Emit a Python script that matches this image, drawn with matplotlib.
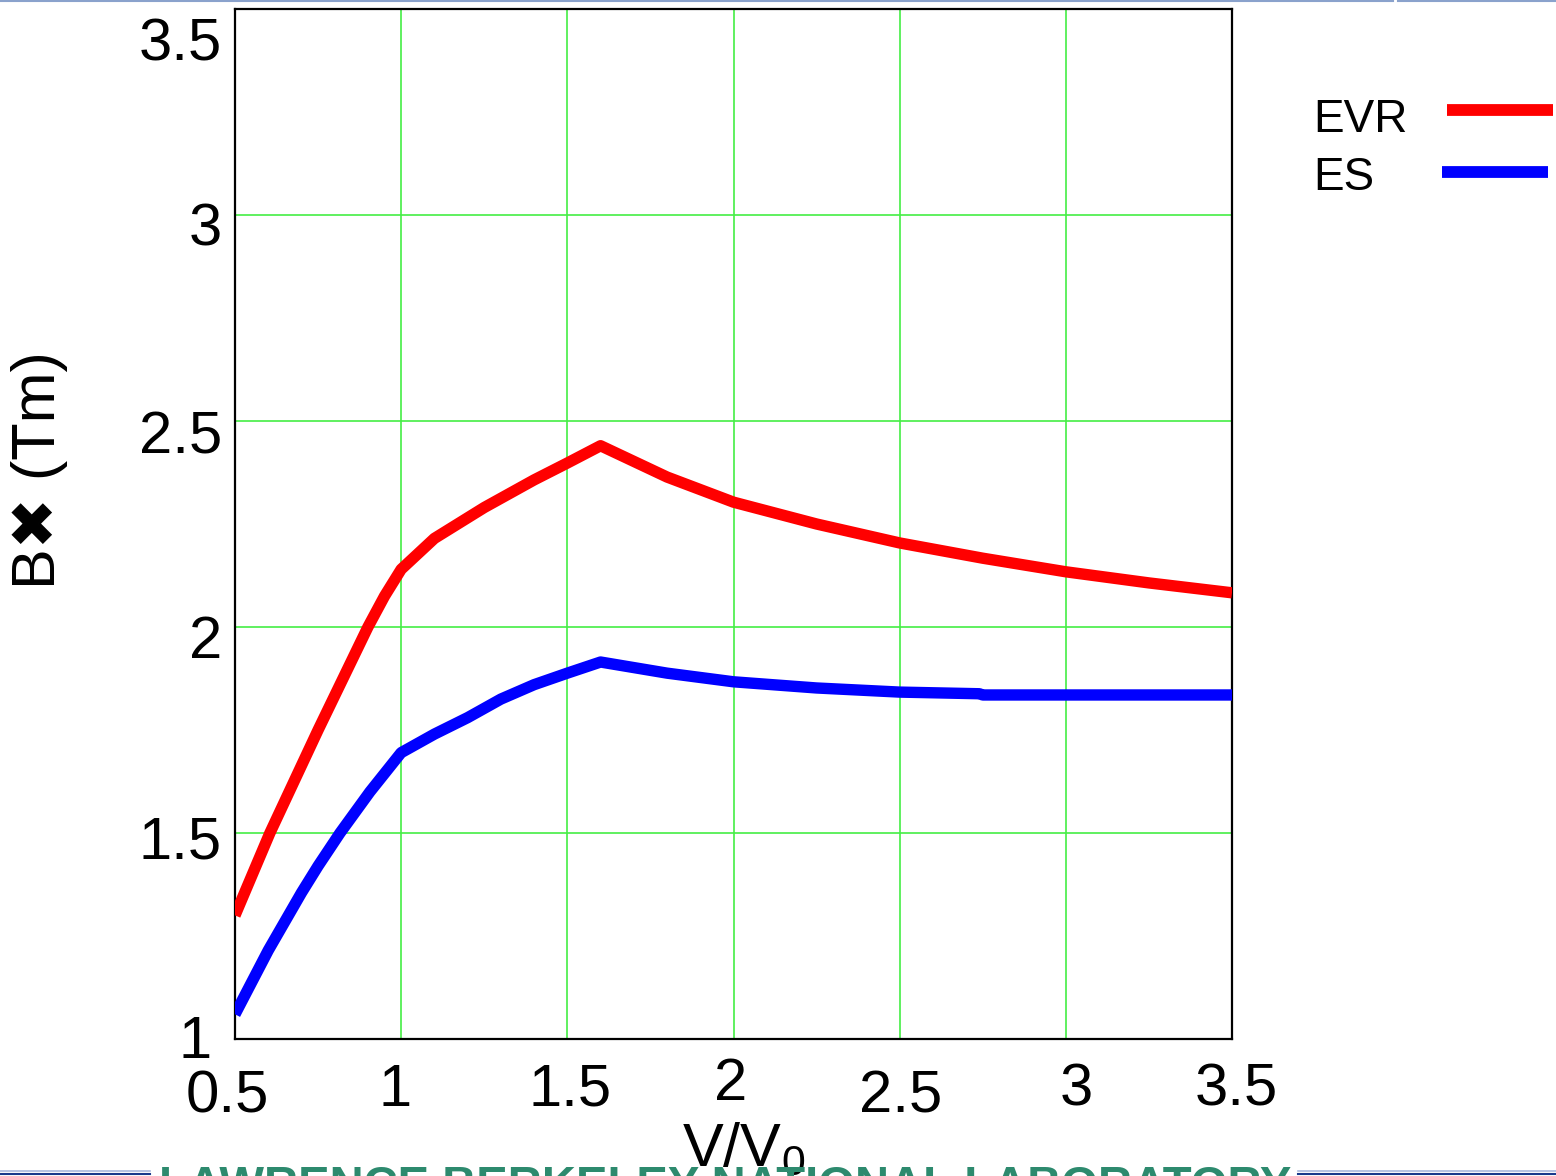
import matplotlib
matplotlib.use('Agg')
import matplotlib.pyplot as plt
from matplotlib.lines import Line2D
from matplotlib import transforms

plt.rcParams['font.family'] = ['Liberation Sans', 'DejaVu Sans']
plt.rcParams['mathtext.fontset'] = 'custom'
plt.rcParams['mathtext.rm'] = 'Liberation Sans'
plt.rcParams['mathtext.default'] = 'regular'

# 読み取った値
v_evr = [0.5, 0.605, 0.75, 0.9, 0.95, 1.0, 1.1, 1.25, 1.4, 1.5, 1.6,
         1.8, 2.0, 2.25, 2.5, 2.75, 3.0, 3.25, 3.5]
b_evr = [1.30, 1.50, 1.75, 2.0, 2.075, 2.14, 2.215, 2.29, 2.357, 2.398, 2.44,
         2.364, 2.303, 2.25, 2.204, 2.167, 2.134, 2.107, 2.083]

v_es = [0.5, 0.6, 0.7, 0.75, 0.816, 0.906, 1.0, 1.1, 1.2, 1.3, 1.4, 1.5, 1.6,
        1.8, 2.0, 2.25, 2.5, 2.74, 2.75, 3.0, 3.5]
b_es = [1.06, 1.215, 1.355, 1.42, 1.5, 1.6, 1.695, 1.74, 1.78, 1.825, 1.86, 1.888, 1.915,
        1.888, 1.867, 1.852, 1.842, 1.838, 1.835, 1.835, 1.835]

series_names = ['EVR', 'ES']
series_colors = ['#ff0000', '#0000ff']

xticks = [0.5, 1, 1.5, 2, 2.5, 3, 3.5]
xtick_labels = ['0.5', '1', '1.5', '2', '2.5', '3', '3.5']
yticks = [1, 1.5, 2, 2.5, 3, 3.5]
ytick_labels = ['1', '1.5', '2', '2.5', '3', '3.5']

# ラベルのずれ（ピクセル）: 元画像のラベル位置がばらばらなので再現する
xlab_dx = [-8, -6, 3, -3, 1, 10, 4]
xlab_dy = [58, 51, 51, 46, 58, 51, 51]
ylab_dx = [-23, -13, -13, -13, -13, -13]
ylab_dy = [4, 10, 16, 17, 15, 36]

W, H = 1556, 1176
fig = plt.figure(figsize=(W / 100, H / 100), dpi=100)
ax = fig.add_axes([235 / W, 1 - 1039 / H, (1232 - 235) / W, (1039 - 9) / H])

for xs, ys, c in [(v_evr, b_evr, series_colors[0]), (v_es, b_es, series_colors[1])]:
    ax.plot(xs, ys, color=c, lw=8.2, solid_capstyle='butt', solid_joinstyle='round', zorder=3)

ax.set_xlim(0.5, 3.5)
ax.set_ylim(1, 3.5)
ax.set_xticks(xticks)
ax.set_yticks(yticks)
ax.set_xticklabels([])
ax.set_yticklabels([])
ax.tick_params(length=0)
ax.grid(True, color='#44ee44', lw=1.2, zorder=1)
for s in ax.spines.values():
    s.set_color('black')
    s.set_linewidth(1.6)
    s.set_zorder(2)

bx = transforms.blended_transform_factory(ax.transData, ax.transAxes)
by = transforms.blended_transform_factory(ax.transAxes, ax.transData)
for x, lab, dx, dy in zip(xticks, xtick_labels, xlab_dx, xlab_dy):
    tr = transforms.offset_copy(bx, fig=fig, x=dx, y=-dy, units='dots')
    ax.text(x, 0, lab, transform=tr, ha='center', va='center', fontsize=43)
for y, lab, dx, dy in zip(yticks, ytick_labels, ylab_dx, ylab_dy):
    tr = transforms.offset_copy(by, fig=fig, x=dx, y=-dy, units='dots')
    ax.text(0, y, lab, transform=tr, ha='right', va='center', fontsize=43)

fig.text(40 / W, 1 - 470 / H, 'B\u2716 (Tm)', rotation=90, ha='center', va='center',
         fontsize=44)
fig.text(744 / W, 1 - 1165 / H, r'V/V$_0$', ha='center', va='baseline', fontsize=44)

# 凡例（手描き）
leg_text_y = [120, 178]
leg_line = [(1447, 1553, 110), (1442, 1548, 172)]
for name, c, ty, (x0, x1, ly) in zip(series_names, series_colors, leg_text_y, leg_line):
    fig.text(1313 / W, 1 - ty / H, name, ha='left', va='center', fontsize=33)
    fig.add_artist(Line2D([x0 / W, x1 / W], [1 - ly / H, 1 - ly / H],
                          color=c, lw=8.5, solid_capstyle='butt'))

# スライドの枠線とフッター
fig.add_artist(Line2D([0, 1393 / W], [1 - 1 / H, 1 - 1 / H], color='#8aa2cc', lw=1.5))
fig.add_artist(Line2D([1398 / W, 1], [1 - 1 / H, 1 - 1 / H], color='#8aa2cc', lw=1.5))
for x0, x1 in [(0, 150), (1298, W)]:
    fig.add_artist(Line2D([x0 / W, x1 / W], [1 - 1171 / H] * 2, color='#a8b8dd', lw=1.2))
    fig.add_artist(Line2D([x0 / W, x1 / W], [1 - 1174 / H] * 2, color='#1a3a8c', lw=1.5))
fig.text(725 / W, 1 - 1165 / H, 'LAWRENCE BERKELEY NATIONAL LABORATORY',
         ha='center', va='top', fontsize=34, color='#2d8a6e', fontweight='bold')

fig.savefig('out.png', dpi=100)
